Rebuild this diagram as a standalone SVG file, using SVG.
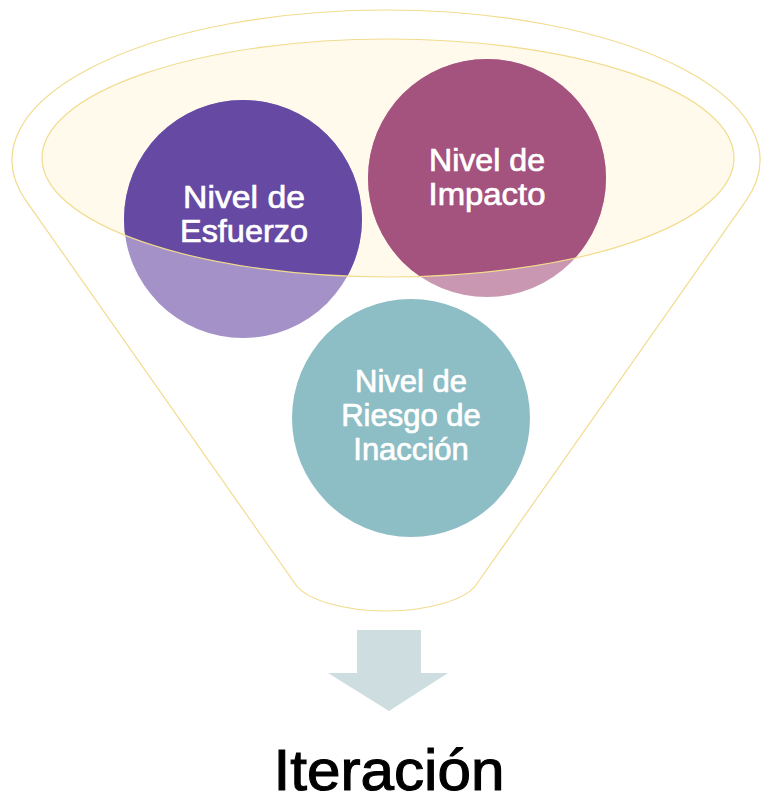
<svg xmlns="http://www.w3.org/2000/svg" width="762" height="802" viewBox="0 0 762 802">
  <style>
    .lbl { font-family: "Liberation Sans", Arial, sans-serif; fill: #ffffff; stroke: #ffffff; stroke-width: 0.7; text-anchor: middle; }
    .title { font-family: "Liberation Sans", Arial, sans-serif; fill: #000000; stroke: #000000; stroke-width: 1.1; text-anchor: middle; }
    .gold { fill: none; stroke: #f1dc8e; stroke-width: 1.2; }
  </style>
  <defs>
    <clipPath id="innerClip">
      <ellipse cx="388" cy="158" rx="346" ry="119"/>
    </clipPath>
  </defs>
  <rect width="762" height="802" fill="#ffffff"/>
  <g id="funnel">
    <path d="M 26.1,200.8 A 374 150 0 1 1 745.9,200.8 L 476,585 C 466,599 430,611 386,611 C 342,611 306,599 296,585 Z" fill="#ffffff" stroke="#f1dc8e" stroke-width="1.2"/>
    <ellipse cx="388" cy="158" rx="346" ry="119" fill="#fffaec"/>
  </g>
  <g id="esfuerzo">
    <circle cx="243" cy="219" r="119" fill="#a391c8"/>
    <circle cx="243" cy="219" r="119" fill="#6549a3" clip-path="url(#innerClip)"/>
  </g>
  <g id="impacto">
    <circle cx="487" cy="178" r="119" fill="#c997b2"/>
    <circle cx="487" cy="178" r="119" fill="#a4527e" clip-path="url(#innerClip)"/>
  </g>
  <ellipse class="gold" cx="388" cy="158" rx="346" ry="119"/>
  <g id="riesgo">
    <circle cx="411" cy="418" r="119" fill="#8dbdc5"/>
  </g>
  <g id="labels">
    <text class="lbl" font-size="31" lengthAdjust="spacingAndGlyphs"><tspan x="244" y="208" textLength="122" lengthAdjust="spacingAndGlyphs">Nivel de</tspan><tspan x="244" y="242" textLength="128" lengthAdjust="spacingAndGlyphs">Esfuerzo</tspan></text>
    <text class="lbl" font-size="31"><tspan x="487" y="171" textLength="116" lengthAdjust="spacingAndGlyphs">Nivel de</tspan><tspan x="487" y="205" textLength="117" lengthAdjust="spacingAndGlyphs">Impacto</tspan></text>
    <text class="lbl" font-size="31"><tspan x="411" y="392">Nivel de</tspan><tspan x="411" y="426">Riesgo de</tspan><tspan x="411" y="460">Inacción</tspan></text>
  </g>
  <g id="connectors">
    <path d="M 357,630 L 421,630 L 421,673 L 448,673 L 389,711 L 328,673 L 357,673 Z" fill="#cddde0"/>
  </g>
  <g id="iteracion">
    <text class="title" x="389" y="790" font-size="57" textLength="231" lengthAdjust="spacingAndGlyphs">Iteración</text>
  </g>
</svg>
